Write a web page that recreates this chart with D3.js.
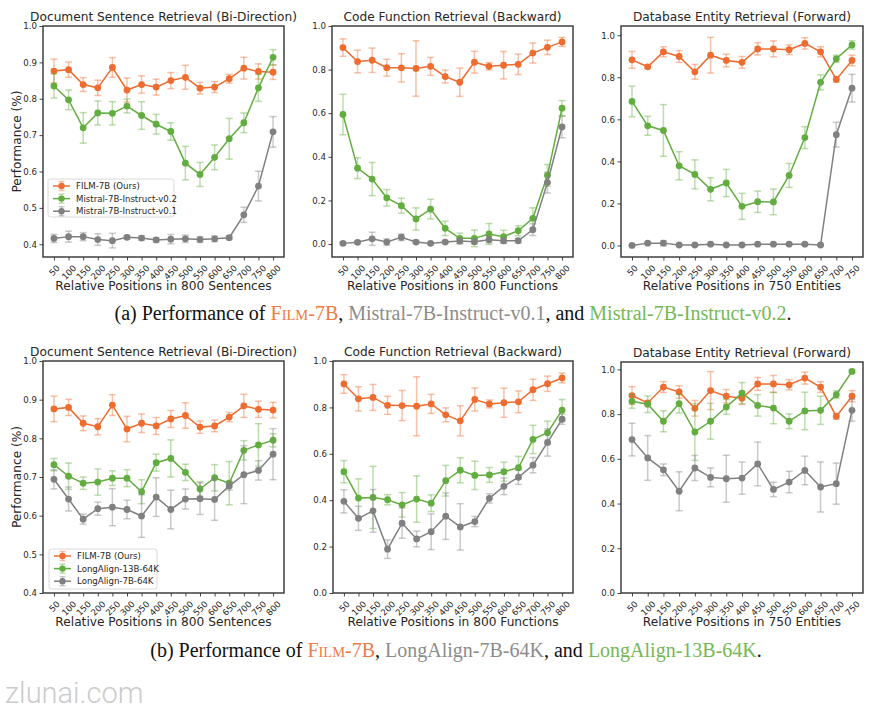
<!DOCTYPE html>
<html><head><meta charset="utf-8">
<script src="https://cdn.jsdelivr.net/npm/d3@7/dist/d3.min.js"></script>
<style>body{margin:0;background:#fff}svg{display:block}</style>
</head><body>
<svg id="chart" width="889" height="714"></svg>
<script>
// ---------------- DATA ----------------
const positions800 = [50,100,150,200,250,300,350,400,450,500,550,600,650,700,750,800];
const positions750 = [50,100,150,200,250,300,350,400,450,500,550,600,650,700,750];

const titles = ["Document Sentence Retrieval (Bi-Direction)", "Code Function Retrieval (Backward)", "Database Entity Retrieval (Forward)"];
const xLabels = ["Relative Positions in 800 Sentences", "Relative Positions in 800 Functions", "Relative Positions in 750 Entities"];
const yLabel = "Performance (%)";
const ticksDoc = [0.4,0.5,0.6,0.7,0.8,0.9,1.0];
const ticksCode = [0.0,0.2,0.4,0.6,0.8,1.0];
const ticksDb = [0.0,0.2,0.4,0.6,0.8,1.0];

const namesTop = ["FILM-7B (Ours)", "Mistral-7B-Instruct-v0.2", "Mistral-7B-Instruct-v0.1"];
const namesBottom = ["FILM-7B (Ours)", "LongAlign-13B-64K", "LongAlign-7B-64K"];

// FILM-7B
const filmDoc     = [0.876,0.880,0.839,0.830,0.886,0.824,0.839,0.832,0.850,0.859,0.829,0.832,0.855,0.884,0.875,0.873];
const filmDocErr  = [0.033,0.021,0.019,0.021,0.027,0.033,0.024,0.022,0.022,0.033,0.016,0.015,0.012,0.030,0.021,0.020];
const filmCode    = [0.901,0.837,0.843,0.809,0.808,0.805,0.815,0.768,0.742,0.834,0.815,0.820,0.824,0.876,0.902,0.927];
const filmCodeErr = [0.040,0.052,0.056,0.039,0.065,0.127,0.041,0.030,0.065,0.050,0.017,0.063,0.047,0.046,0.033,0.021];
const filmDb      = [0.883,0.850,0.921,0.899,0.826,0.905,0.880,0.871,0.935,0.935,0.931,0.961,0.921,0.790,0.880];
const filmDbErr   = [0.040,0.008,0.024,0.028,0.035,0.085,0.030,0.028,0.029,0.038,0.023,0.027,0.024,0.013,0.025];

// Mistral-7B-Instruct-v0.2
const mistral2Doc     = [0.835,0.797,0.720,0.761,0.760,0.780,0.754,0.730,0.710,0.623,0.592,0.639,0.690,0.734,0.830,0.914];
const mistral2DocErr  = [0.033,0.027,0.042,0.033,0.032,0.019,0.038,0.027,0.024,0.046,0.033,0.034,0.056,0.027,0.037,0.021];
const mistral2Code    = [0.594,0.348,0.298,0.212,0.176,0.115,0.160,0.072,0.026,0.026,0.046,0.034,0.061,0.118,0.315,0.623];
const mistral2CodeErr = [0.093,0.048,0.076,0.038,0.034,0.051,0.045,0.033,0.024,0.038,0.048,0.029,0.023,0.048,0.050,0.035];
const mistral2Db      = [0.685,0.569,0.547,0.379,0.338,0.267,0.297,0.186,0.208,0.207,0.333,0.513,0.776,0.888,0.954];
const mistral2DbErr   = [0.073,0.045,0.123,0.067,0.069,0.055,0.065,0.062,0.051,0.061,0.057,0.052,0.036,0.017,0.020];

// Mistral-7B-Instruct-v0.1
const mistral1Doc     = [0.416,0.421,0.421,0.413,0.410,0.419,0.417,0.412,0.414,0.415,0.413,0.415,0.418,0.481,0.560,0.709];
const mistral1DocErr  = [0.011,0.015,0.011,0.016,0.020,0.005,0.006,0.006,0.013,0.010,0.008,0.008,0.005,0.021,0.041,0.042];
const mistral1Code    = [0.003,0.008,0.024,0.009,0.031,0.009,0.003,0.009,0.014,0.011,0.020,0.015,0.015,0.066,0.282,0.537];
const mistral1CodeErr = [0.006,0.006,0.030,0.015,0.015,0.007,0.005,0.006,0.012,0.010,0.015,0.012,0.010,0.027,0.048,0.050];
const mistral1Db      = [0.000,0.011,0.011,0.002,0.002,0.006,0.002,0.002,0.006,0.006,0.006,0.006,0.002,0.527,0.748];
const mistral1DbErr   = [0.003,0.006,0.012,0.003,0.003,0.004,0.003,0.003,0.004,0.004,0.004,0.004,0.003,0.059,0.066];

// LongAlign-13B-64K
const la13Doc     = [0.732,0.702,0.684,0.687,0.697,0.697,0.662,0.737,0.748,0.712,0.669,0.698,0.684,0.769,0.783,0.795];
const la13DocErr  = [0.016,0.034,0.016,0.034,0.019,0.022,0.031,0.022,0.048,0.021,0.019,0.034,0.056,0.025,0.055,0.017];
const la13Code    = [0.523,0.409,0.412,0.402,0.380,0.405,0.387,0.484,0.529,0.507,0.509,0.523,0.540,0.662,0.691,0.788];
const la13CodeErr = [0.048,0.083,0.134,0.022,0.053,0.100,0.036,0.066,0.054,0.061,0.032,0.041,0.049,0.061,0.050,0.046];
const la13Db      = [0.857,0.844,0.768,0.847,0.720,0.768,0.832,0.894,0.839,0.827,0.768,0.814,0.817,0.887,0.991];
const la13DbErr   = [0.031,0.037,0.047,0.042,0.127,0.080,0.033,0.047,0.048,0.070,0.033,0.084,0.063,0.017,0.007];

// LongAlign-7B-64K
const la7Doc     = [0.694,0.643,0.591,0.618,0.622,0.616,0.599,0.648,0.616,0.643,0.644,0.642,0.677,0.706,0.717,0.759];
const la7DocErr  = [0.025,0.031,0.013,0.017,0.048,0.024,0.055,0.050,0.050,0.026,0.041,0.054,0.011,0.075,0.025,0.066];
const la7Code    = [0.395,0.322,0.354,0.189,0.301,0.233,0.264,0.331,0.285,0.308,0.408,0.460,0.499,0.551,0.649,0.749];
const la7CodeErr = [0.050,0.052,0.092,0.040,0.065,0.034,0.077,0.100,0.100,0.022,0.020,0.036,0.031,0.033,0.059,0.022];
const la7Db      = [0.686,0.604,0.551,0.455,0.559,0.517,0.511,0.514,0.577,0.463,0.496,0.548,0.474,0.489,0.817];
const la7DbErr   = [0.073,0.100,0.026,0.087,0.056,0.042,0.105,0.072,0.098,0.032,0.048,0.064,0.112,0.092,0.049];

// ---------------- STYLE ----------------
const C_ORANGE = "#EE6C2F", C_GREEN = "#62AD3F", C_GREY = "#808080";
const FONT = "DejaVu Sans, sans-serif";
const TXT = "#262626";

const svg = d3.select("#chart");

function panel(cfg) {
  const [x0, y0, x1, y1] = cfg.frame;
  const n = cfg.cats.length;
  const x = d3.scaleLinear().domain([-0.75 * (n - 1) / 15, (n - 1) + 0.75 * (n - 1) / 15]).range([x0, x1]);
  const y = d3.scaleLinear().domain(cfg.ydom).range([y1, y0]);
  const g = svg.append("g");

  // title
  g.append("text").attr("x", (x0 + x1) / 2).attr("y", y0 - 5)
    .attr("text-anchor", "middle").attr("font-family", FONT).attr("font-size", 12.2)
    .attr("fill", TXT).text(cfg.title);

  // y axis
  const yAxis = d3.axisLeft(y).tickValues(cfg.yticks).tickFormat(d3.format(".1f")).tickSize(3.5).tickPadding(2.5);
  const ya = g.append("g").attr("transform", `translate(${x0},0)`).call(yAxis);
  ya.select(".domain").remove();
  ya.selectAll("line").attr("stroke", "#333").attr("stroke-width", 0.9);
  ya.selectAll("text").attr("font-family", FONT).attr("font-size", 8.6).attr("fill", TXT);

  // x axis
  const xAxis = d3.axisBottom(x).tickValues(d3.range(n)).tickFormat(i => cfg.cats[i]).tickSize(3.5);
  const xa = g.append("g").attr("transform", `translate(0,${y1})`).call(xAxis);
  xa.select(".domain").remove();
  xa.selectAll("line").attr("stroke", "#333").attr("stroke-width", 0.9);
  xa.selectAll("text").each(function(i) {
    const t = d3.select(this);
    t.attr("font-family", FONT).attr("font-size", 8.6).attr("fill", TXT)
      .attr("text-anchor", "middle").attr("dy", null).attr("y", null).attr("dominant-baseline", "central");
    const w = this.getComputedTextLength();
    const h = 8.6;
    const off = (w + h) / (2 * Math.SQRT2);
    t.attr("transform", `translate(0,${6.5 + off}) rotate(-45)`);
  });

  // x label
  g.append("text").attr("x", (x0 + x1) / 2).attr("y", y1 + 32.5)
    .attr("text-anchor", "middle").attr("font-family", FONT).attr("font-size", 12.2)
    .attr("fill", TXT).text(cfg.xlabel);

  if (cfg.ylabel) {
    g.append("text").attr("transform", `translate(21,${(y0 + y1) / 2}) rotate(-90)`)
      .attr("text-anchor", "middle").attr("font-family", FONT).attr("font-size", 12.2)
      .attr("fill", TXT).text(cfg.ylabel);
  }

  // clip
  const clipId = "clip" + Math.round(x0) + "_" + Math.round(y0);
  g.append("clipPath").attr("id", clipId).append("rect")
    .attr("x", x0).attr("y", y0).attr("width", x1 - x0).attr("height", y1 - y0);
  const plot = g.append("g").attr("clip-path", `url(#${clipId})`);

  cfg.series.forEach(s => {
    const sg = plot.append("g");
    const pts = s.vals.map((v, i) => ({ i, v, e: s.errs[i] }));
    // error bars
    const eb = sg.append("g").attr("stroke", s.color).attr("stroke-opacity", 0.42).attr("stroke-width", 1.5);
    pts.forEach(p => {
      const cx = x(p.i);
      eb.append("line").attr("x1", cx).attr("x2", cx).attr("y1", y(p.v - p.e)).attr("y2", y(p.v + p.e));
      eb.append("line").attr("x1", cx - 3.5).attr("x2", cx + 3.5).attr("y1", y(p.v - p.e)).attr("y2", y(p.v - p.e));
      eb.append("line").attr("x1", cx - 3.5).attr("x2", cx + 3.5).attr("y1", y(p.v + p.e)).attr("y2", y(p.v + p.e));
    });
    sg.append("path").datum(pts)
      .attr("d", d3.line().x(p => x(p.i)).y(p => y(p.v)))
      .attr("fill", "none").attr("stroke", s.color).attr("stroke-width", 1.5);
    sg.selectAll("circle").data(pts).join("circle")
      .attr("cx", p => x(p.i)).attr("cy", p => y(p.v)).attr("r", 3.4).attr("fill", s.color);
  });

  // frame
  g.append("rect").attr("x", x0).attr("y", y0).attr("width", x1 - x0).attr("height", y1 - y0)
    .attr("fill", "none").attr("stroke", "#333").attr("stroke-width", 1.4);

  // legend
  if (cfg.legend) {
    const L = cfg.legend;
    const lg = g.append("g");
    lg.append("rect").attr("x", L.x).attr("y", L.y).attr("width", L.w).attr("height", L.h)
      .attr("rx", 2.5).attr("fill", "#fff").attr("fill-opacity", 0.85).attr("stroke", "#d0d0d0").attr("stroke-width", 0.8);
    cfg.series.forEach((s, k) => {
      const yy = L.y + 7 + k * 12.6;
      const lx0 = L.x + 5, lx1 = L.x + 22, mx = (lx0 + lx1) / 2;
      lg.append("line").attr("x1", mx).attr("x2", mx).attr("y1", yy - 4.5).attr("y2", yy + 4.5)
        .attr("stroke", s.color).attr("stroke-opacity", 0.42).attr("stroke-width", 1.5);
      lg.append("line").attr("x1", mx - 3).attr("x2", mx + 3).attr("y1", yy - 4.5).attr("y2", yy - 4.5)
        .attr("stroke", s.color).attr("stroke-opacity", 0.42).attr("stroke-width", 1.5);
      lg.append("line").attr("x1", mx - 3).attr("x2", mx + 3).attr("y1", yy + 4.5).attr("y2", yy + 4.5)
        .attr("stroke", s.color).attr("stroke-opacity", 0.42).attr("stroke-width", 1.5);
      lg.append("line").attr("x1", lx0).attr("x2", lx1).attr("y1", yy).attr("y2", yy)
        .attr("stroke", s.color).attr("stroke-width", 1.5);
      lg.append("circle").attr("cx", mx).attr("cy", yy).attr("r", 3.2).attr("fill", s.color);
      lg.append("text").attr("x", L.x + 28).attr("y", yy).attr("dominant-baseline", "central")
        .attr("font-family", FONT).attr("font-size", 8.6).attr("fill", TXT).text(s.name);
    });
  }
}

const mk = (names, vals, errs) => names.map((nm, k) => ({ name: nm, color: [C_ORANGE, C_GREEN, C_GREY][k], vals: vals[k], errs: errs[k] }));

// top row
panel({ title: titles[0], xlabel: xLabels[0], ylabel: yLabel, cats: positions800, frame: [43, 26, 284, 257], ydom: [0.365, 1.0], yticks: ticksDoc,
  series: mk(namesTop, [filmDoc, mistral2Doc, mistral1Doc], [filmDocErr, mistral2DocErr, mistral1DocErr]),
  legend: { x: 48, y: 179, w: 126, h: 38 } });
panel({ title: titles[1], xlabel: xLabels[1], cats: positions800, frame: [332, 26, 573, 257], ydom: [-0.0595, 1.0], yticks: ticksCode,
  series: mk(namesTop, [filmCode, mistral2Code, mistral1Code], [filmCodeErr, mistral2CodeErr, mistral1CodeErr]) });
panel({ title: titles[2], xlabel: xLabels[2], cats: positions750, frame: [621, 26, 863, 257], ydom: [-0.055, 1.044], yticks: ticksDb,
  series: mk(namesTop, [filmDb, mistral2Db, mistral1Db], [filmDbErr, mistral2DbErr, mistral1DbErr]) });

// bottom row
panel({ title: titles[0], xlabel: xLabels[0], ylabel: yLabel, cats: positions800, frame: [43, 361, 284, 593], ydom: [0.4, 1.0], yticks: ticksDoc,
  series: mk(namesBottom, [filmDoc, la13Doc, la7Doc], [filmDocErr, la13DocErr, la7DocErr]),
  legend: { x: 49, y: 549, w: 108, h: 40 } });
panel({ title: titles[1], xlabel: xLabels[1], cats: positions800, frame: [333, 361, 573, 593], ydom: [0.0, 1.0], yticks: ticksCode,
  series: mk(namesBottom, [filmCode, la13Code, la7Code], [filmCodeErr, la13CodeErr, la7CodeErr]) });
panel({ title: titles[2], xlabel: xLabels[2], cats: positions750, frame: [621, 362, 863, 593], ydom: [0.0, 1.033], yticks: ticksDb,
  series: mk(namesBottom, [filmDb, la13Db, la7Db], [filmDbErr, la13DbErr, la7DbErr]) });

// ---------------- CAPTIONS ----------------
const SERIF = "Liberation Serif, Times New Roman, serif";
function caption(cx, cy, parts) {
  const t = svg.append("text").attr("x", cx).attr("y", cy).attr("text-anchor", "middle")
    .attr("font-family", SERIF).attr("font-size", 20).attr("fill", "#111");
  parts.forEach(p => {
    const ts = t.append("tspan").text(p.t);
    if (p.c) ts.attr("fill", p.c);
    if (p.s) ts.attr("font-size", p.s);
  });
}
const CAP_OR = "#F07A45", CAP_GR = "#8C8C8C", CAP_GN = "#74B854";
caption(453, 320, [
  { t: "(a) Performance of " }, { t: "F", c: CAP_OR }, { t: "ILM", c: CAP_OR, s: 14.5 }, { t: "-7B", c: CAP_OR },
  { t: ", " }, { t: "Mistral-7B-Instruct-v0.1", c: CAP_GR }, { t: ", and " },
  { t: "Mistral-7B-Instruct-v0.2", c: CAP_GN }, { t: "." }
]);
caption(456, 657, [
  { t: "(b) Performance of " }, { t: "F", c: CAP_OR }, { t: "ILM", c: CAP_OR, s: 14.5 }, { t: "-7B", c: CAP_OR },
  { t: ", " }, { t: "LongAlign-7B-64K", c: CAP_GR }, { t: ", and " },
  { t: "LongAlign-13B-64K", c: CAP_GN }, { t: "." }
]);

// watermark
svg.append("text").attr("x", 5).attr("y", 703).attr("font-family", "Roboto, sans-serif").attr("font-weight", 300)
  .attr("font-size", 29).attr("fill", "#cbcbcb").text("zlunai.com");
</script>
</body></html>
